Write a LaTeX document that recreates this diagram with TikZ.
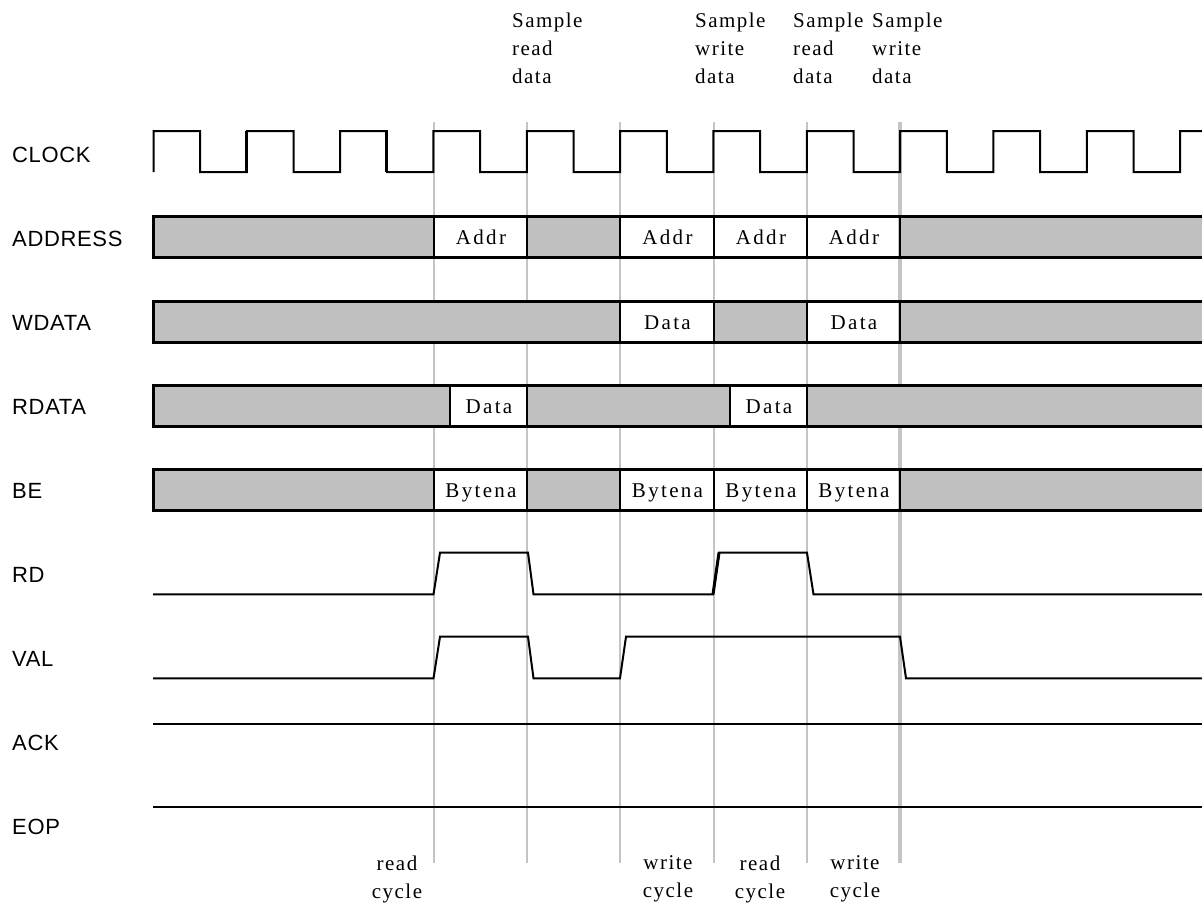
\documentclass[tikz,border=0pt]{standalone}
\usepackage{fontspec}
\setmainfont{Liberation Serif}[LetterSpace=7]
\newfontfamily\cellfont{Liberation Serif}[LetterSpace=11]
\newfontfamily\labfont{Liberation Sans}[LetterSpace=3]
\definecolor{busgray}{HTML}{C0C0C0}
\definecolor{guide}{HTML}{C4C4C4}
\tikzset{
  siglabel/.style={anchor=base west, inner sep=0pt, font=\labfont\fontsize{22}{26}\selectfont},
  celltext/.style={anchor=base, inner sep=0pt, font=\cellfont\fontsize{21}{26}\selectfont},
  note/.style={inner sep=0pt, font=\fontsize{21}{28}\selectfont},
  guideline/.style={draw=guide, line width=2pt},
  wave/.style={line width=2pt, line join=miter},
  heavy/.style={line width=3pt},
  busedge/.style={line width=3pt},
  busdiv/.style={line width=2pt},
}
\begin{document}
\begin{tikzpicture}[x=1pt,y=-1pt]
\useasboundingbox (0,0) rectangle (1202,907);
% guide lines
\foreach \gx in {434,527,620,714,807} \draw[guideline] (\gx,122) -- (\gx,863);
\draw[guideline, line width=3.5pt] (900,122) -- (900,863);
% signal labels
\node[siglabel] (lclk) at (12,162) {CLOCK};
\node[siglabel] (ladr) at (12,246) {ADDRESS};
\node[siglabel] (lwd) at (12,330) {WDATA};
\node[siglabel] (lrd) at (12,414) {RDATA};
\node[siglabel] (lbe) at (12,498) {BE};
\node[siglabel] (lrdy) at (12,582) {RD};
\node[siglabel] (lval) at (12,666) {VAL};
\node[siglabel] (lack) at (12,750) {ACK};
\node[siglabel] (leop) at (12,834) {EOP};
% clock
\draw[wave] (153.5,172) \foreach \k in {0,...,10} {
   -- ({153.5+93.33*\k},131) -- ({200.2+93.33*\k},131) -- ({200.2+93.33*\k},172) -- ({246.8+93.33*\k},172) }
   -- (1180.1,131) -- (1204,131);
\draw[heavy] (246.8,131) -- (246.8,172);
\draw[heavy] (386.8,131) -- (386.8,172);
% buses: #1 top y, list of gray segments, list of dividers
\newcommand{\busrow}[3]{%
  \foreach \a/\b in {#2} \fill[busgray] (\a,#1) rectangle (\b,#1+41);
  \foreach \d in {#3} \draw[busdiv] (\d,#1) -- (\d,#1+41);
  \draw[busedge] (1204,#1) -- (153.5,#1) -- (153.5,#1+41) -- (1204,#1+41);
}
\busrow{216}{153.5/434,527/620,900/1204}{434,527,620,714,807,900}
\busrow{301}{153.5/620,714/807,900/1204}{620,714,807,900}
\busrow{385}{153.5/450,527/730,807/1204}{450,527,730,807}
\busrow{469}{153.5/434,527/620,900/1204}{434,527,620,714,807,900}
% bus texts
\node[celltext] (a1) at (481,244.5) {Addr};
\node[celltext] (a2) at (667.5,244.5) {Addr};
\node[celltext] (a3) at (761,244.5) {Addr};
\node[celltext] (a4) at (854,244.5) {Addr};
\node[celltext] (w1) at (667.5,329) {Data};
\node[celltext] (w2) at (854,329) {Data};
\node[celltext] (r1) at (489,413) {Data};
\node[celltext] (r2) at (769,413) {Data};
\node[celltext] (b1) at (481,497) {Bytena};
\node[celltext] (b2) at (667.5,497) {Bytena};
\node[celltext] (b3) at (761,497) {Bytena};
\node[celltext] (b4) at (854,497) {Bytena};
% RD
\draw[wave] (153,594.3) -- (433.5,594.3) -- (440,552.7) -- (528,552.7) -- (533.5,594.3) -- (713,594.3) -- (719,552.7) -- (807,552.7) -- (813.5,594.3) -- (1204,594.3);
\draw[heavy] (713,594.3) -- (719,552.7);
% VAL
\draw[wave] (153,678.3) -- (433.5,678.3) -- (440,636.7) -- (528,636.7) -- (533.5,678.3) -- (620,678.3) -- (626,636.7) -- (900,636.7) -- (906,678.3) -- (1204,678.3);
% ACK, EOP
\draw[wave] (153,724.3) -- (1204,724.3);
\draw[wave] (153,806.7) -- (1204,806.7);
% top notes
\node[note, anchor=north west, align=left] (s1) at (512,12.5) {Sample\\read\\data};
\node[note, anchor=north west, align=left] (s2) at (695,12.5) {Sample\\write\\data};
\node[note, anchor=north west, align=left] (s3) at (793,12.5) {Sample\\read\\data};
\node[note, anchor=north west, align=left] (s4) at (872,12.5) {Sample\\write\\data};
% bottom notes
\node[note, anchor=north, align=center] (c1) at (397,855.5) {read\\cycle};
\node[note, anchor=north, align=center] (c2) at (668,855.5) {write\\cycle};
\node[note, anchor=north, align=center] (c3) at (760,855.5) {read\\cycle};
\node[note, anchor=north, align=center] (c4) at (855,855.5) {write\\cycle};
\end{tikzpicture}
\end{document}
